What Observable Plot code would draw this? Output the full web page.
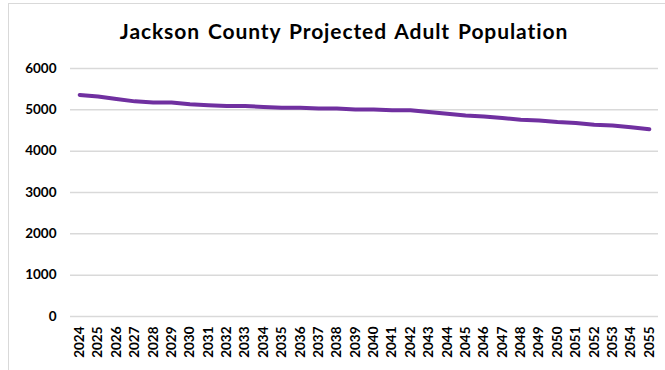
<!DOCTYPE html>
<html>
<head>
<meta charset="utf-8">
<script src="https://cdn.jsdelivr.net/npm/d3@7"></script>
<script src="https://cdn.jsdelivr.net/npm/@observablehq/plot@0.6"></script>
<style>
  html, body { margin: 0; padding: 0; background: #fff; }
  #wrap { position: relative; width: 665px; height: 370px; overflow: hidden; }
  #frame { position: absolute; left: 8px; top: 3px; width: 680px; height: 400px; border: 1.5px solid #d9d9d9; box-sizing: border-box; }
  #title { position: absolute; left: 8px; width: 672px; top: 18px; text-align: center; font-family: Lato, sans-serif; font-weight: 700; font-size: 21px; letter-spacing: 0.9px; word-spacing: 2px; color: #000; }
  #chart { position: absolute; left: 0; top: 50px; }
</style>
</head>
<body>
<div id="wrap">
  <div id="frame"></div>
  <div id="title">Jackson County Projected Adult Population</div>
  <div id="chart"></div>
</div>
<script>
const years = ["2024","2025","2026","2027","2028","2029","2030","2031","2032","2033","2034","2035","2036","2037","2038","2039","2040","2041","2042","2043","2044","2045","2046","2047","2048","2049","2050","2051","2052","2053","2054","2055"];
const population = [5360,5320,5260,5205,5180,5180,5135,5110,5090,5090,5070,5050,5050,5030,5030,5010,5010,4990,4990,4945,4905,4865,4840,4800,4760,4740,4705,4680,4640,4620,4580,4530];
const yTicks = [0,1000,2000,3000,4000,5000,6000];

const data = years.map((y, i) => ({year: y, value: population[i]}));

const chart = Plot.plot({
  width: 665,
  height: 320,
  marginTop: 18,
  marginBottom: 54,
  marginLeft: 70,
  marginRight: 7,
  style: {fontFamily: "Lato, sans-serif", fontSize: "13.5px", fontWeight: 700, color: "#000", background: "transparent"},
  x: {type: "point", domain: years, padding: 0.5, round: false, label: null},
  y: {domain: [0, 6000], ticks: yTicks, label: null},
  marks: [
    Plot.ruleY(yTicks, {stroke: "#d9d9d9", strokeWidth: 1.5}),
    Plot.axisY({ticks: yTicks, tickSize: 0, tickPadding: 14, tickFormat: d => String(d), label: null}),
    Plot.axisX({tickSize: 0, tickPadding: 10, tickRotate: -90, label: null}),
    Plot.line(data, {x: "year", y: "value", stroke: "#7030a0", strokeWidth: 4, strokeLinecap: "round", strokeLinejoin: "round"})
  ]
});
document.getElementById("chart").appendChild(chart);
</script>
</body>
</html>
